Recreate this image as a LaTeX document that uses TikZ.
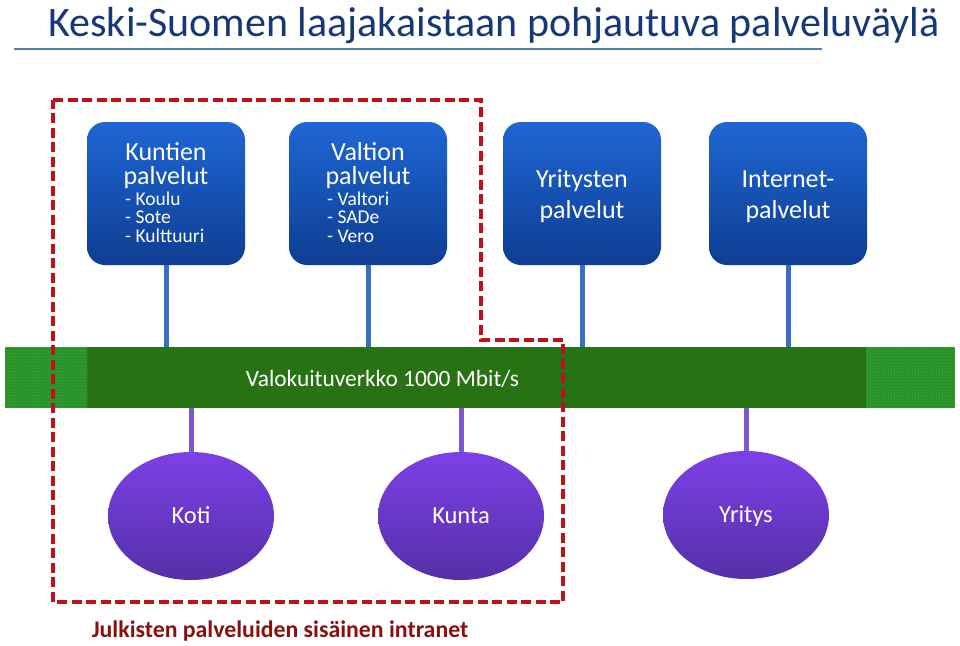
\documentclass[tikz,border=0pt]{standalone}
\usepackage{fontspec}
\setmainfont{Carlito}
\usetikzlibrary{shapes.geometric,patterns}
\definecolor{titleblue}{RGB}{22,56,120}
\definecolor{rulecol}{RGB}{85,125,175}
\definecolor{boxtop}{RGB}{30,102,212}
\definecolor{boxbot}{RGB}{14,62,146}
\definecolor{stemblue}{RGB}{55,110,196}
\definecolor{bargreen}{RGB}{39,115,20}
\definecolor{patgreen}{RGB}{40,146,40}
\definecolor{dotgreen}{RGB}{100,195,100}
\definecolor{purtop}{RGB}{124,64,230}
\definecolor{purbot}{RGB}{85,48,168}
\definecolor{stempur}{RGB}{126,86,207}
\definecolor{dashred}{RGB}{192,17,26}
\definecolor{labelred}{RGB}{138,15,15}
\tikzset{
  svcbox/.style={rounded corners=18pt, top color=boxtop, bottom color=boxbot, draw=none,
    minimum width=158pt, minimum height=143pt, inner sep=0pt},
  bigtxt/.style={text=white, font=\fontsize{26}{28}\selectfont, anchor=base, inner sep=0pt},
  subtxt/.style={text=white, font=\fontsize{19.5}{21}\selectfont, anchor=base west, inner sep=0pt},
  endpoint/.style={top color=purtop, bottom color=purbot, draw=none, ellipse,
    minimum width=166pt, minimum height=128pt, inner sep=0pt,
    text=white, font=\fontsize{24.5}{26}\selectfont, text height=16pt, text depth=2pt},
  bluestem/.style={draw=stemblue, line width=5pt},
  purstem/.style={draw=stempur, line width=5pt},
  dashedge/.style={draw=dashred, line width=3.6pt, dash pattern=on 10pt off 4.5pt},
}
\begin{document}
\begin{tikzpicture}[x=1pt,y=-1pt]
\useasboundingbox (0,0) rectangle (960,645);
% title
\node[anchor=base, inner sep=0pt, text=titleblue, font=\fontsize{42}{46}\selectfont] (title) at (494,36) {Keski-Suomen laajakaistaan pohjautuva palveluväylä};
\coordinate (ruleL) at (14,49);
\coordinate (ruleR) at (822,49);
\draw[rulecol, line width=1.5pt] (ruleL) -- (ruleR);
% green bar
\node[fill=bargreen, minimum width=950pt, minimum height=61pt, inner sep=0pt] (bar) at (480,377.5) {};
\node[fill=patgreen, minimum width=82pt, minimum height=61pt, inner sep=0pt, anchor=west] (patL) at (bar.west) {};
\node[fill=patgreen, minimum width=89pt, minimum height=61pt, inner sep=0pt, anchor=east] (patR) at (bar.east) {};
\fill[pattern=dots, pattern color=dotgreen] (patL.north west) rectangle (patL.south east);
\fill[pattern=dots, pattern color=dotgreen] (patR.north west) rectangle (patR.south east);
\node[anchor=base, inner sep=0pt, text=white, font=\fontsize{23.4}{25}\selectfont] (bartxt) at (382.5,386) {Valokuituverkko 1000 Mbit/s};
% service boxes
\node[svcbox] (b1) at (166,193.5) {};
\node[svcbox] (b2) at (368,193.5) {};
\node[svcbox] (b3) at (582,193.5) {};
\node[svcbox] (b4) at (788,193.5) {};
\draw[bluestem] (b1.south) -- (b1.south |- bar.north);
\draw[bluestem] (b2.south) -- (b2.south |- bar.north);
\draw[bluestem] (b3.south) -- (b3.south |- bar.north);
\draw[bluestem] (b4.south) -- (b4.south |- bar.north);
% box texts
\node[bigtxt] (t1a) at (166,160.5) {Kuntien};
\node[bigtxt] (t1b) at (166,184) {palvelut};
\node[subtxt] (t1c) at (125,205) {- Koulu};
\node[subtxt] (t1d) at (125,223.5) {- Sote};
\node[subtxt] (t1e) at (125,242.5) {- Kulttuuri};
\node[bigtxt] (t2a) at (368,160.5) {Valtion};
\node[bigtxt] (t2b) at (368,184) {palvelut};
\node[subtxt] (t2c) at (327,205) {- Valtori};
\node[subtxt] (t2d) at (327,223.5) {- SADe};
\node[subtxt] (t2e) at (327,242.5) {- Vero};
\node[bigtxt] (t3a) at (582,187) {Yritysten};
\node[bigtxt] (t3b) at (582,218) {palvelut};
\node[bigtxt] (t4a) at (788,187) {Internet-};
\node[bigtxt] (t4b) at (788,218) {palvelut};
% endpoints
\node[endpoint] (koti) at (191,516) {Koti};
\node[endpoint] (kunta) at (461,516) {Kunta};
\node[endpoint] (yritys) at (746,515) {Yritys};
\draw[purstem] (koti.north) -- (koti.north |- bar.south);
\draw[purstem] (kunta.north) -- (kunta.north |- bar.south);
\draw[purstem] (yritys.north) -- (yritys.north |- bar.south);
% dashed intranet outline
\coordinate (d1) at (53,100);
\coordinate (d2) at (481,100);
\coordinate (d3) at (481,340);
\coordinate (d4) at (563,340);
\coordinate (d5) at (563,602);
\coordinate (d6) at (53,602);
\draw[dashedge] (d1) -- (d2) -- (d3) -- (d4) -- (d5) -- (d6) -- cycle;
\node[anchor=base, inner sep=0pt, text=labelred, font=\bfseries\fontsize{23.8}{25}\selectfont] (intra) at (280,637) {Julkisten palveluiden sisäinen intranet};
\end{tikzpicture}
\end{document}
